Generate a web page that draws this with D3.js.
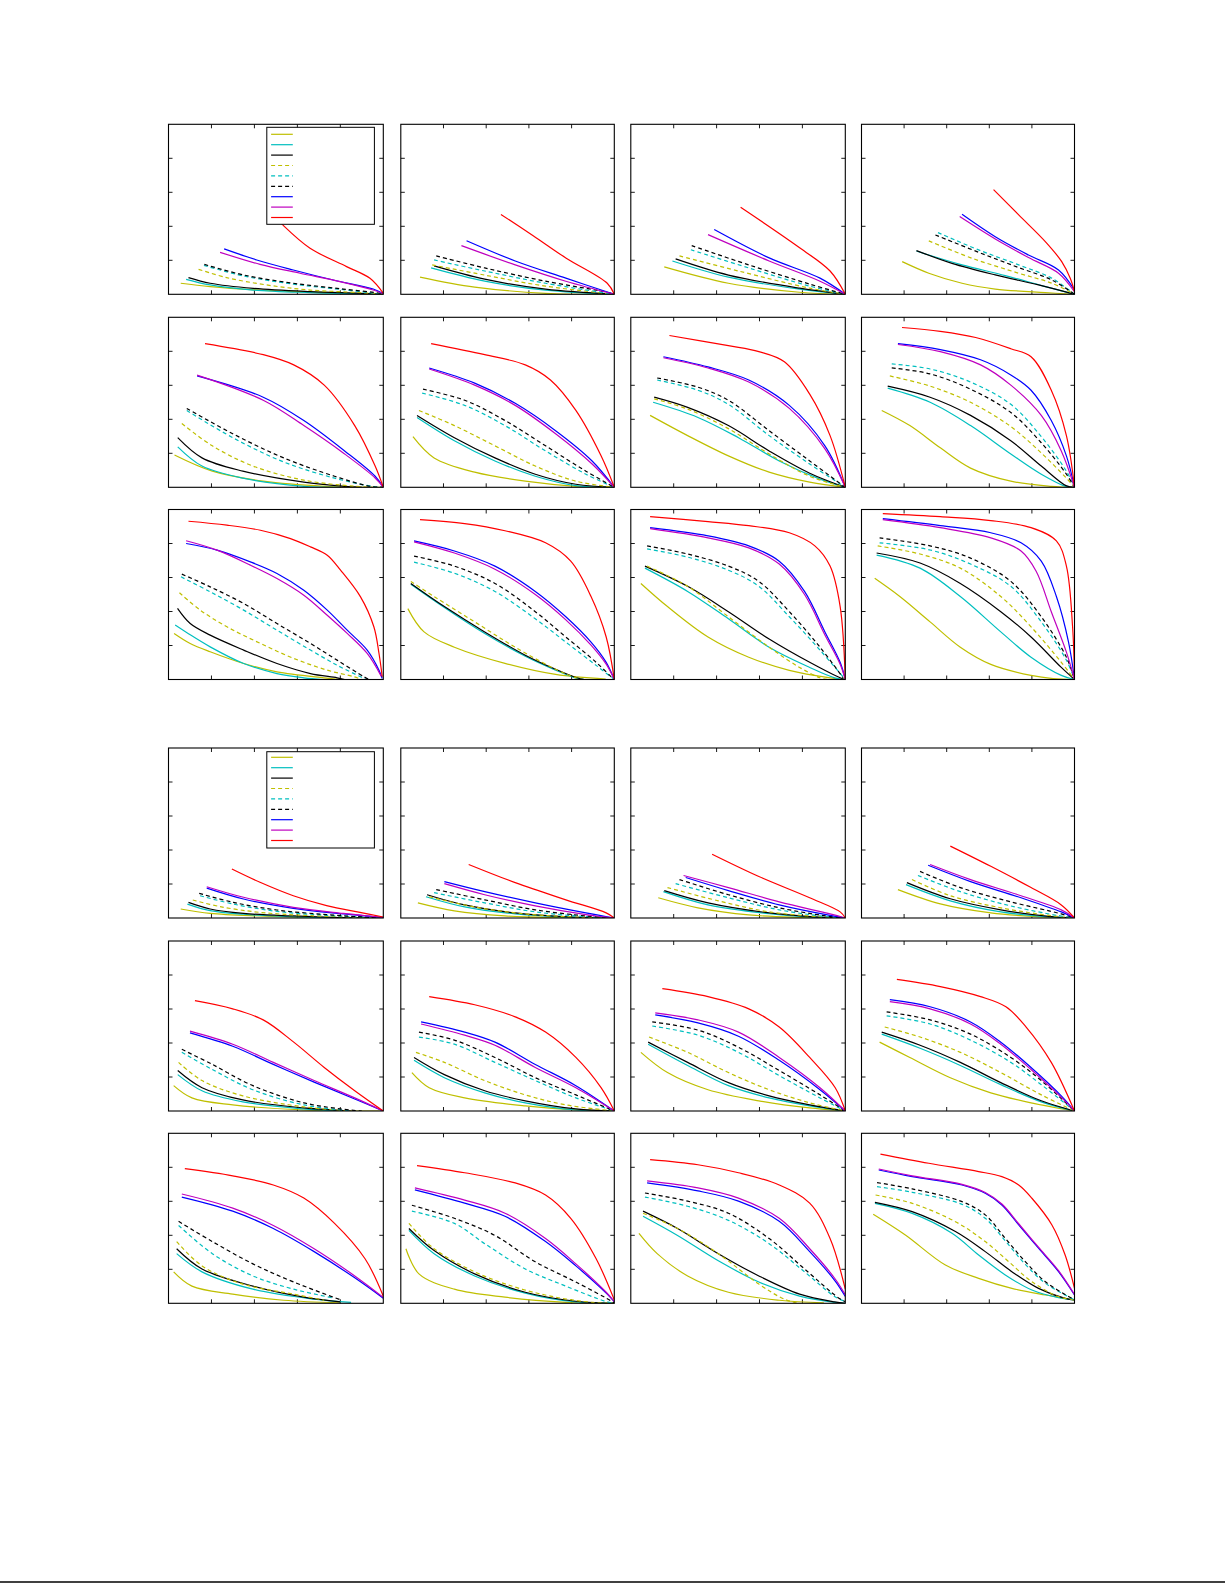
<!DOCTYPE html>
<html><head><meta charset="utf-8">
<script src="https://cdnjs.cloudflare.com/ajax/libs/d3/7.8.5/d3.min.js"></script>
<style>body{margin:0;background:#fff}svg{display:block}</style></head>
<body>
<script>
// series order: yellow, cyan, black (solid), yellow, cyan, black (dashed), blue, magenta, red
const seriesKeys = ["y","c","k","yd","cd","kd","b","m","r"];
const xTicks = [0.2,0.4,0.6,0.8];
const yTicks = [0.2,0.4,0.6,0.8];

// ---- top block ----
const A1 = [
 [0.057,0.065,0.194,0.045,0.426,0.025,0.736,0.01,1,0],
 [0.082,0.088,0.194,0.055,0.395,0.025,0.659,0.01,1,0],
 [0.093,0.098,0.194,0.065,0.395,0.035,0.659,0.016,0.891,0.006,1,0],
 [0.140,0.147,0.271,0.098,0.457,0.055,0.659,0.025,0.891,0.01,1,0],
 [0.165,0.170,0.349,0.108,0.581,0.060,0.814,0.027,1,0],
 [0.167,0.176,0.349,0.114,0.581,0.065,0.814,0.031,0.984,0.006,1,0],
 [0.259,0.267,0.411,0.202,0.581,0.143,0.767,0.084,0.953,0.031,1,0.003],
 [0.240,0.247,0.426,0.176,0.612,0.124,0.798,0.075,0.953,0.025,1,0.003],
 [0.47,0.49,0.527,0.414,0.659,0.271,0.829,0.163,0.938,0.094,1,0.006]];
const A2 = [
 [0.09,0.101,0.346,0.042,0.678,0.006,1,0],
 [0.142,0.155,0.393,0.077,0.678,0.024,1,0],
 [0.156,0.167,0.393,0.089,0.678,0.03,1,0],
 [0.147,0.173,0.393,0.113,0.678,0.048,1,0],
 [0.156,0.202,0.393,0.137,0.678,0.065,1,0],
 [0.166,0.226,0.393,0.155,0.678,0.077,0.967,0.012,1,0],
 [0.308,0.315,0.536,0.196,0.773,0.095,1,0],
 [0.284,0.286,0.536,0.173,0.773,0.077,1,0],
 [0.469,0.47,0.62,0.345,0.773,0.214,0.967,0.065,1,0]];
const A3 = [
 [0.156,0.161,0.455,0.065,0.787,0.012,1,0],
 [0.194,0.196,0.455,0.101,0.787,0.03,1,0],
 [0.209,0.208,0.455,0.113,0.787,0.036,1,0],
 [0.227,0.226,0.502,0.137,0.834,0.036,1,0],
 [0.28,0.262,0.55,0.155,0.834,0.048,1,0],
 [0.284,0.286,0.55,0.173,0.834,0.06,1,0],
 [0.389,0.381,0.645,0.214,0.882,0.095,1,0],
 [0.36,0.351,0.645,0.196,0.882,0.077,1,0],
 [0.512,0.512,0.787,0.274,0.929,0.137,1,0]];
const A4 = [
 [0.191,0.192,0.316,0.124,0.472,0.065,0.628,0.031,0.863,0.01,1,0],
 [0.258,0.255,0.316,0.231,0.472,0.173,0.675,0.11,0.85,0.05,1,0],
 [0.258,0.257,0.425,0.182,0.628,0.114,0.831,0.055,1,0],
 [0.316,0.314,0.519,0.212,0.738,0.124,0.894,0.065,1,0],
 [0.359,0.363,0.55,0.261,0.738,0.173,0.894,0.094,1,0],
 [0.347,0.349,0.55,0.247,0.738,0.157,0.894,0.084,1,0],
 [0.472,0.471,0.628,0.339,0.784,0.231,0.925,0.143,1,0.025],
 [0.461,0.457,0.628,0.325,0.784,0.216,0.925,0.124,1,0.015],
 [0.62,0.616,0.738,0.467,0.863,0.31,0.94,0.192,0.98,0.094,1,0.016]];
const B1 = [
 [0.028,0.19,0.204,0.095,0.441,0.036,0.725,0.006,1,0],
 [0.043,0.238,0.156,0.125,0.346,0.054,0.63,0.006,0.8,0],
 [0.043,0.292,0.156,0.173,0.346,0.095,0.63,0.03,0.82,0.006,0.9,0],
 [0.062,0.375,0.204,0.244,0.393,0.125,0.63,0.042,0.867,0.006,0.95,0],
 [0.085,0.452,0.299,0.292,0.536,0.149,0.773,0.054,0.95,0.005,1,0],
 [0.085,0.464,0.299,0.315,0.536,0.173,0.773,0.065,0.938,0.006,1,0],
 [0.133,0.655,0.441,0.53,0.63,0.393,0.82,0.214,0.962,0.065,1,0],
 [0.133,0.66,0.441,0.512,0.63,0.363,0.82,0.196,0.962,0.055,1,0],
 [0.17,0.845,0.441,0.78,0.583,0.72,0.725,0.601,0.867,0.363,0.962,0.125,1,0]];
const B2 = [
 [0.057,0.298,0.156,0.173,0.346,0.089,0.583,0.036,0.82,0.006,1,0],
 [0.076,0.411,0.251,0.274,0.441,0.155,0.63,0.065,0.82,0.01,1,0],
 [0.076,0.423,0.251,0.292,0.441,0.173,0.63,0.077,0.82,0.018,1,0],
 [0.085,0.452,0.251,0.363,0.441,0.244,0.63,0.125,0.82,0.036,1,0],
 [0.1,0.554,0.299,0.482,0.488,0.363,0.678,0.214,0.867,0.077,1,0],
 [0.104,0.577,0.299,0.512,0.488,0.393,0.678,0.244,0.867,0.095,1,0],
 [0.133,0.702,0.346,0.613,0.536,0.494,0.725,0.333,0.896,0.155,1,0],
 [0.133,0.696,0.346,0.601,0.536,0.482,0.725,0.315,0.896,0.137,1,0],
 [0.142,0.845,0.393,0.78,0.583,0.72,0.701,0.631,0.82,0.452,0.938,0.185,1,0]];
const B3 = [
 [0.09,0.423,0.265,0.304,0.455,0.185,0.645,0.089,0.834,0.03,1,0],
 [0.104,0.5,0.313,0.411,0.502,0.292,0.692,0.155,0.882,0.048,1,0],
 [0.109,0.53,0.265,0.47,0.455,0.363,0.645,0.214,0.834,0.083,1,0],
 [0.109,0.52,0.265,0.46,0.455,0.345,0.645,0.196,0.834,0.065,1,0],
 [0.123,0.631,0.313,0.571,0.455,0.488,0.645,0.304,0.834,0.137,1,0],
 [0.123,0.643,0.313,0.589,0.455,0.512,0.645,0.333,0.834,0.155,1,0],
 [0.152,0.768,0.36,0.708,0.55,0.631,0.739,0.482,0.905,0.244,1,0],
 [0.152,0.762,0.36,0.702,0.55,0.619,0.739,0.464,0.905,0.226,1,0],
 [0.18,0.893,0.455,0.833,0.597,0.798,0.716,0.738,0.834,0.548,0.929,0.304,1,0]];
const B4 = [
 [0.095,0.452,0.227,0.363,0.37,0.232,0.512,0.113,0.701,0.036,0.891,0.006,1,0],
 [0.123,0.583,0.322,0.5,0.512,0.363,0.701,0.196,0.844,0.077,0.96,0.005,1,0],
 [0.123,0.595,0.322,0.53,0.512,0.423,0.701,0.274,0.844,0.125,0.96,0.01,1,0],
 [0.133,0.655,0.322,0.595,0.512,0.5,0.701,0.357,0.844,0.202,0.962,0.054,1,0],
 [0.142,0.726,0.322,0.696,0.512,0.619,0.701,0.488,0.844,0.298,0.962,0.095,1,0],
 [0.142,0.702,0.322,0.667,0.512,0.577,0.701,0.44,0.844,0.262,0.962,0.077,1,0],
 [0.171,0.845,0.37,0.81,0.559,0.75,0.701,0.661,0.796,0.571,0.891,0.393,0.962,0.185,1,0],
 [0.171,0.84,0.37,0.798,0.559,0.72,0.701,0.601,0.844,0.423,0.938,0.214,1,0],
 [0.19,0.94,0.37,0.917,0.536,0.881,0.701,0.815,0.796,0.768,0.891,0.571,0.962,0.304,1,0]];
const C1 = [
 [0.026,0.271,0.101,0.212,0.194,0.163,0.35,0.094,0.505,0.045,0.723,0.01,0.8,0],
 [0.031,0.32,0.086,0.275,0.194,0.192,0.35,0.094,0.505,0.035,0.63,0.01,0.72,0],
 [0.042,0.418,0.101,0.329,0.194,0.261,0.35,0.173,0.505,0.094,0.661,0.035,0.785,0.01,0.82,0],
 [0.051,0.51,0.148,0.408,0.272,0.31,0.428,0.212,0.583,0.124,0.739,0.055,0.863,0.016,0.9,0],
 [0.058,0.604,0.194,0.516,0.35,0.408,0.505,0.29,0.661,0.173,0.785,0.084,0.894,0.016,0.92,0],
 [0.062,0.62,0.194,0.545,0.35,0.447,0.505,0.329,0.661,0.212,0.785,0.114,0.91,0.016,0.935,0],
 [0.082,0.8,0.226,0.761,0.381,0.692,0.505,0.624,0.63,0.525,0.739,0.408,0.832,0.29,0.925,0.173,0.98,0.055,0.995,0.006],
 [0.082,0.816,0.226,0.761,0.381,0.673,0.505,0.594,0.63,0.496,0.739,0.378,0.832,0.271,0.925,0.153,0.99,0.02],
 [0.093,0.931,0.272,0.908,0.428,0.878,0.568,0.829,0.661,0.78,0.739,0.731,0.801,0.643,0.894,0.486,0.956,0.31,0.98,0.153,0.995,0.016]];
const C2 = [
 [0.033,0.417,0.109,0.28,0.251,0.19,0.488,0.095,0.725,0.03,0.96,0.003],
 [0.047,0.56,0.204,0.423,0.393,0.27,0.583,0.137,0.725,0.055,0.82,0.008,0.86,0],
 [0.047,0.565,0.204,0.429,0.393,0.28,0.583,0.143,0.725,0.06,0.82,0.012,0.86,0],
 [0.047,0.577,0.156,0.488,0.346,0.339,0.536,0.19,0.725,0.06,0.82,0.01,0.85,0],
 [0.062,0.69,0.251,0.625,0.441,0.518,0.63,0.357,0.773,0.22,0.915,0.083,1,0],
 [0.062,0.726,0.251,0.667,0.441,0.565,0.63,0.399,0.773,0.25,0.915,0.101,0.99,0.01],
 [0.062,0.815,0.251,0.756,0.441,0.667,0.63,0.518,0.773,0.369,0.891,0.22,0.962,0.101,1,0],
 [0.062,0.81,0.251,0.744,0.441,0.649,0.63,0.5,0.773,0.351,0.891,0.202,0.962,0.09,1,0],
 [0.09,0.94,0.299,0.917,0.488,0.875,0.678,0.804,0.796,0.696,0.891,0.488,0.962,0.25,1,0]];
const C3 = [
 [0.047,0.565,0.171,0.429,0.36,0.25,0.55,0.131,0.739,0.054,0.929,0.01,1,0],
 [0.066,0.655,0.265,0.518,0.455,0.357,0.645,0.19,0.834,0.071,0.95,0.01,1,0],
 [0.066,0.667,0.265,0.548,0.455,0.399,0.645,0.238,0.834,0.101,0.976,0.01,1,0],
 [0.076,0.667,0.265,0.548,0.455,0.369,0.645,0.19,0.787,0.071,0.882,0.01,0.92,0],
 [0.076,0.768,0.265,0.72,0.455,0.643,0.597,0.548,0.739,0.369,0.882,0.173,1,0],
 [0.076,0.786,0.265,0.738,0.455,0.667,0.597,0.577,0.739,0.399,0.882,0.19,0.99,0.01],
 [0.09,0.893,0.36,0.845,0.55,0.786,0.692,0.696,0.81,0.518,0.905,0.28,0.976,0.101,1,0],
 [0.09,0.887,0.36,0.833,0.55,0.774,0.692,0.679,0.81,0.5,0.905,0.262,0.976,0.09,1,0],
 [0.09,0.958,0.36,0.929,0.55,0.905,0.739,0.863,0.858,0.786,0.929,0.667,0.976,0.429,1,0]];
const C4 = [
 [0.062,0.595,0.18,0.488,0.322,0.339,0.464,0.19,0.607,0.089,0.796,0.024,0.9,0.005,1,0],
 [0.071,0.732,0.275,0.655,0.464,0.488,0.654,0.28,0.796,0.131,0.938,0.024,1,0],
 [0.071,0.744,0.275,0.685,0.464,0.565,0.654,0.399,0.796,0.25,0.938,0.071,1,0],
 [0.076,0.786,0.275,0.738,0.464,0.655,0.654,0.488,0.796,0.31,0.938,0.101,1,0],
 [0.085,0.804,0.322,0.762,0.512,0.679,0.701,0.548,0.844,0.339,0.962,0.113,1,0],
 [0.085,0.833,0.322,0.786,0.512,0.714,0.701,0.577,0.844,0.369,0.962,0.131,1,0],
 [0.1,0.946,0.37,0.905,0.607,0.863,0.749,0.804,0.844,0.696,0.915,0.488,0.972,0.22,1,0],
 [0.1,0.94,0.37,0.893,0.607,0.833,0.749,0.756,0.82,0.637,0.891,0.399,0.962,0.161,1,0],
 [0.1,0.976,0.37,0.958,0.607,0.935,0.796,0.893,0.915,0.815,0.962,0.667,0.991,0.31,1,0]];

// ---- bottom block ----
const D1 = [
 [0.057,0.053,0.194,0.027,0.426,0.012,0.7,0.003,1,0],
 [0.088,0.082,0.194,0.043,0.349,0.022,0.6,0.006,1,0],
 [0.093,0.092,0.194,0.053,0.349,0.027,0.581,0.012,0.8,0.003,1,0],
 [0.113,0.106,0.24,0.067,0.426,0.033,0.659,0.014,1,0],
 [0.147,0.131,0.302,0.082,0.504,0.039,0.736,0.016,1,0],
 [0.143,0.145,0.302,0.092,0.504,0.047,0.736,0.02,0.92,0.005,1,0],
 [0.178,0.176,0.349,0.112,0.581,0.057,0.814,0.024,1,0.003],
 [0.178,0.184,0.349,0.122,0.581,0.063,0.814,0.027,1,0.003],
 [0.295,0.288,0.426,0.21,0.581,0.131,0.736,0.073,0.891,0.033,1,0.006]];
const D2 = [
 [0.08,0.089,0.251,0.042,0.488,0.012,0.75,0.002,1,0],
 [0.118,0.125,0.299,0.065,0.536,0.024,0.8,0.004,1,0],
 [0.123,0.137,0.299,0.077,0.536,0.03,0.8,0.006,1,0],
 [0.133,0.125,0.346,0.065,0.583,0.024,0.85,0.004,1,0],
 [0.156,0.149,0.393,0.089,0.63,0.036,0.867,0.008,1,0],
 [0.166,0.167,0.393,0.107,0.63,0.048,0.867,0.012,1,0],
 [0.204,0.214,0.393,0.155,0.63,0.089,0.867,0.03,1,0],
 [0.204,0.202,0.393,0.137,0.63,0.071,0.867,0.02,1,0],
 [0.318,0.315,0.536,0.208,0.773,0.107,0.962,0.03,1,0]];
const D3 = [
 [0.128,0.119,0.313,0.06,0.55,0.018,0.8,0.004,1,0],
 [0.152,0.155,0.36,0.077,0.645,0.025,0.85,0.005,1,0],
 [0.156,0.161,0.36,0.089,0.645,0.03,0.85,0.007,1,0],
 [0.171,0.179,0.408,0.101,0.645,0.036,0.88,0.008,1,0],
 [0.209,0.202,0.455,0.119,0.692,0.048,0.9,0.01,1,0],
 [0.227,0.226,0.455,0.137,0.692,0.06,0.9,0.014,1,0],
 [0.256,0.238,0.455,0.161,0.692,0.077,0.929,0.015,1,0],
 [0.246,0.25,0.455,0.179,0.692,0.095,0.929,0.024,1,0],
 [0.379,0.375,0.597,0.244,0.834,0.119,0.976,0.036,1,0]];
const D4 = [
 [0.171,0.167,0.37,0.083,0.607,0.03,0.85,0.006,1,0],
 [0.209,0.196,0.417,0.101,0.654,0.036,0.88,0.007,1,0],
 [0.213,0.208,0.417,0.113,0.654,0.048,0.88,0.01,1,0],
 [0.237,0.226,0.417,0.131,0.654,0.06,0.9,0.012,1,0],
 [0.265,0.25,0.464,0.155,0.701,0.071,0.92,0.015,1,0],
 [0.275,0.274,0.464,0.179,0.701,0.095,0.938,0.024,1,0],
 [0.313,0.31,0.512,0.214,0.749,0.119,0.938,0.036,1,0],
 [0.322,0.315,0.512,0.226,0.749,0.131,0.938,0.048,1,0],
 [0.417,0.423,0.607,0.304,0.796,0.179,0.938,0.077,1,0]];
const E1 = [
 [0.024,0.149,0.109,0.077,0.299,0.036,0.63,0.006,1,0],
 [0.043,0.214,0.156,0.119,0.346,0.054,0.63,0.012,0.8,0],
 [0.043,0.238,0.156,0.137,0.346,0.065,0.63,0.018,0.85,0],
 [0.047,0.286,0.156,0.179,0.346,0.089,0.63,0.024,0.85,0],
 [0.062,0.345,0.204,0.244,0.393,0.125,0.63,0.036,0.85,0],
 [0.062,0.363,0.204,0.274,0.393,0.149,0.63,0.048,0.844,0.006,0.9,0],
 [0.1,0.46,0.299,0.381,0.488,0.274,0.678,0.17,0.867,0.071,1,0],
 [0.1,0.47,0.299,0.393,0.488,0.286,0.678,0.179,0.867,0.077,1,0],
 [0.123,0.649,0.299,0.601,0.441,0.536,0.583,0.405,0.725,0.256,0.867,0.119,1,0]];
const E2 = [
 [0.052,0.226,0.133,0.137,0.299,0.077,0.583,0.03,0.85,0.005,1,0],
 [0.062,0.298,0.204,0.196,0.393,0.107,0.583,0.048,0.82,0.006,1,0],
 [0.062,0.315,0.204,0.214,0.393,0.119,0.583,0.06,0.82,0.012,1,0],
 [0.071,0.345,0.204,0.286,0.393,0.179,0.583,0.095,0.773,0.036,1,0],
 [0.085,0.435,0.251,0.393,0.441,0.286,0.63,0.179,0.82,0.077,1,0],
 [0.085,0.464,0.251,0.417,0.441,0.315,0.63,0.196,0.82,0.095,1,0],
 [0.095,0.524,0.299,0.464,0.441,0.405,0.63,0.274,0.82,0.149,1,0],
 [0.095,0.512,0.299,0.446,0.441,0.387,0.63,0.256,0.82,0.137,1,0],
 [0.133,0.673,0.346,0.625,0.536,0.554,0.678,0.464,0.82,0.315,0.938,0.137,1,0]];
const E3 = [
 [0.047,0.345,0.171,0.226,0.36,0.125,0.597,0.06,0.834,0.018,1,0],
 [0.081,0.393,0.265,0.268,0.455,0.149,0.645,0.077,0.834,0.03,1,0],
 [0.081,0.405,0.265,0.286,0.455,0.167,0.645,0.089,0.834,0.036,1,0],
 [0.085,0.435,0.265,0.345,0.455,0.226,0.645,0.125,0.834,0.048,1,0],
 [0.1,0.5,0.313,0.446,0.502,0.345,0.692,0.208,0.882,0.077,1,0],
 [0.1,0.524,0.313,0.476,0.502,0.375,0.692,0.238,0.882,0.095,1,0],
 [0.114,0.565,0.313,0.518,0.502,0.44,0.692,0.298,0.882,0.125,1,0],
 [0.114,0.577,0.313,0.536,0.502,0.464,0.692,0.315,0.882,0.137,1,0],
 [0.147,0.72,0.36,0.673,0.55,0.601,0.692,0.494,0.834,0.315,0.953,0.137,1,0]];
const E4 = [
 [0.085,0.405,0.227,0.315,0.417,0.196,0.607,0.107,0.796,0.048,1,0],
 [0.095,0.452,0.275,0.369,0.464,0.268,0.654,0.155,0.844,0.054,1,0],
 [0.095,0.464,0.275,0.387,0.464,0.286,0.654,0.167,0.844,0.06,1,0],
 [0.109,0.494,0.275,0.435,0.464,0.345,0.654,0.226,0.844,0.095,1,0],
 [0.118,0.56,0.322,0.512,0.512,0.417,0.701,0.286,0.844,0.155,1,0],
 [0.118,0.583,0.322,0.536,0.512,0.452,0.701,0.315,0.844,0.179,1,0],
 [0.133,0.655,0.322,0.613,0.512,0.524,0.654,0.405,0.796,0.256,0.938,0.089,1,0],
 [0.133,0.643,0.322,0.601,0.512,0.512,0.654,0.393,0.796,0.244,0.938,0.08,1,0],
 [0.166,0.774,0.37,0.732,0.559,0.673,0.678,0.613,0.773,0.494,0.891,0.286,1,0]];
const F1 = [
 [0.024,0.185,0.109,0.101,0.299,0.054,0.536,0.018,0.8,0.003],
 [0.038,0.292,0.156,0.185,0.393,0.083,0.678,0.024,0.85,0.005],
 [0.038,0.321,0.156,0.202,0.393,0.101,0.63,0.036,0.8,0.008],
 [0.038,0.363,0.156,0.22,0.346,0.113,0.583,0.054,0.725,0.018],
 [0.047,0.458,0.204,0.292,0.393,0.161,0.583,0.083,0.773,0.03],
 [0.047,0.482,0.204,0.363,0.393,0.232,0.583,0.125,0.806,0.018],
 [0.062,0.625,0.299,0.542,0.488,0.44,0.678,0.304,0.867,0.15,1,0.03],
 [0.062,0.643,0.299,0.56,0.488,0.458,0.678,0.321,0.867,0.161,1,0.035],
 [0.076,0.792,0.299,0.75,0.488,0.696,0.63,0.619,0.773,0.47,0.915,0.262,1,0.042]];
const F2 = [
 [0.024,0.321,0.085,0.173,0.251,0.083,0.488,0.036,0.773,0.006,1,0],
 [0.038,0.429,0.156,0.292,0.346,0.161,0.583,0.06,0.82,0.008,1,0],
 [0.038,0.44,0.156,0.31,0.346,0.173,0.583,0.065,0.82,0.012,1,0],
 [0.038,0.47,0.156,0.321,0.346,0.185,0.536,0.095,0.725,0.036,0.9,0.005,1,0],
 [0.052,0.542,0.251,0.47,0.393,0.351,0.583,0.202,0.773,0.101,0.962,0.01,1,0],
 [0.052,0.577,0.251,0.5,0.441,0.399,0.63,0.244,0.82,0.125,0.99,0.01,1,0],
 [0.066,0.667,0.299,0.589,0.488,0.512,0.678,0.363,0.82,0.22,0.962,0.06,1,0.01],
 [0.066,0.679,0.299,0.607,0.488,0.53,0.678,0.381,0.82,0.232,0.962,0.065,1,0.01],
 [0.076,0.81,0.299,0.768,0.536,0.708,0.678,0.637,0.796,0.5,0.915,0.262,1,0.02]];
const F3 = [
 [0.038,0.411,0.123,0.292,0.265,0.161,0.455,0.065,0.692,0.018,0.9,0.003],
 [0.057,0.512,0.218,0.399,0.408,0.25,0.597,0.125,0.787,0.042,0.95,0.005,1,0],
 [0.057,0.542,0.218,0.44,0.408,0.292,0.597,0.161,0.787,0.054,0.95,0.008,1,0],
 [0.057,0.53,0.218,0.44,0.408,0.292,0.597,0.113,0.716,0.024,0.78,0],
 [0.066,0.625,0.265,0.571,0.455,0.488,0.645,0.351,0.81,0.185,0.95,0.04,1,0.01],
 [0.066,0.649,0.265,0.601,0.455,0.53,0.645,0.381,0.81,0.202,0.97,0.03,1,0.01],
 [0.076,0.708,0.313,0.661,0.502,0.601,0.692,0.482,0.834,0.304,0.953,0.131,1,0.04],
 [0.076,0.72,0.313,0.679,0.502,0.619,0.692,0.5,0.834,0.321,0.953,0.143,1,0.05],
 [0.09,0.845,0.313,0.815,0.502,0.768,0.692,0.696,0.834,0.589,0.929,0.381,1,0.083]];
const F4 = [
 [0.055,0.524,0.206,0.402,0.394,0.225,0.55,0.147,0.706,0.088,0.863,0.049,0.956,0.029,1,0.02],
 [0.063,0.588,0.238,0.529,0.425,0.412,0.55,0.284,0.675,0.167,0.8,0.078,0.925,0.033,1,0.02],
 [0.063,0.594,0.238,0.539,0.441,0.422,0.581,0.304,0.706,0.186,0.831,0.088,0.956,0.029,1,0.02],
 [0.066,0.637,0.238,0.588,0.441,0.48,0.581,0.363,0.691,0.245,0.8,0.127,0.925,0.039,1,0.02],
 [0.073,0.686,0.238,0.653,0.472,0.582,0.581,0.5,0.675,0.367,0.769,0.229,0.863,0.118,1,0.02],
 [0.073,0.71,0.238,0.673,0.472,0.598,0.581,0.52,0.675,0.382,0.769,0.245,0.863,0.127,1,0.02],
 [0.081,0.784,0.238,0.745,0.472,0.696,0.581,0.647,0.659,0.578,0.738,0.461,0.831,0.324,0.925,0.186,1,0.049],
 [0.081,0.79,0.238,0.75,0.472,0.7,0.581,0.652,0.659,0.584,0.738,0.468,0.831,0.33,0.925,0.192,1,0.052],
 [0.089,0.878,0.316,0.824,0.55,0.775,0.659,0.745,0.738,0.696,0.8,0.618,0.894,0.461,0.956,0.284,1,0.088]];

const panels = [A1,A2,A3,A4,B1,B2,B3,B4,C1,C2,C3,C4,D1,D2,D3,D4,E1,E2,E3,E4,F1,F2,F3,F4];

// ---- styles ----
const seriesColor = {y:"#bfbf00",c:"#00bfbf",k:"#000000",yd:"#bfbf00",cd:"#00bfbf",kd:"#000000",b:"#0000ff",m:"#bf00bf",r:"#ff0000"};
const seriesDash = {y:null,c:null,k:null,yd:"4,3",cd:"4,3",kd:"4,3",b:null,m:null,r:null};

const W = 1225, H = 1585;
const colLeft = [168.5, 400.8, 630.8, 861.5];
const colWidth = [214.8, 213.5, 214.5, 213];
const rowTop = [124.3, 317.3, 509.5, 748, 941, 1133.3];
const rowH = 170;

const svg = d3.select("body").append("svg").attr("width", W).attr("height", H);
const defs = svg.append("defs");

panels.forEach((pdata, i) => {
  const row = Math.floor(i / 4), col = i % 4;
  const x0 = colLeft[col], y0 = rowTop[row], w = colWidth[col], h = rowH;
  const xs = d3.scaleLinear().domain([0,1]).range([0, w]);
  const ys = d3.scaleLinear().domain([0,1]).range([h, 0]);
  const g = svg.append("g").attr("transform", `translate(${x0},${y0})`);
  const cid = "clip" + i;
  defs.append("clipPath").attr("id", cid).append("rect").attr("x",0).attr("y",0).attr("width",w).attr("height",h);

  // ticks (inward, all four sides)
  const tk = 4;
  const tg = g.append("g").attr("stroke","#000").attr("stroke-width",0.9);
  xTicks.forEach(t => {
    tg.append("line").attr("x1",xs(t)).attr("x2",xs(t)).attr("y1",0).attr("y2",tk);
    tg.append("line").attr("x1",xs(t)).attr("x2",xs(t)).attr("y1",h).attr("y2",h-tk);
  });
  yTicks.forEach(t => {
    tg.append("line").attr("y1",ys(t)).attr("y2",ys(t)).attr("x1",0).attr("x2",tk);
    tg.append("line").attr("y1",ys(t)).attr("y2",ys(t)).attr("x1",w).attr("x2",w-tk);
  });

  const line = d3.line().x(d => xs(d[0])).y(d => ys(d[1])).curve(d3.curveCatmullRom.alpha(0.5));
  const lg = g.append("g").attr("clip-path", `url(#${cid})`);
  pdata.forEach((flat, si) => {
    const pts = [];
    for (let k = 0; k < flat.length; k += 2) pts.push([flat[k], flat[k+1]]);
    const key = seriesKeys[si];
    lg.append("path").attr("d", line(pts)).attr("fill","none")
      .attr("stroke", seriesColor[key]).attr("stroke-width",1.2)
      .attr("stroke-dasharray", seriesDash[key]);
  });

  // legend in first panel of each block
  if (col === 0 && (row === 0 || row === 3)) {
    const lx = 98.3, ly = row === 0 ? 3 : 3.7, lw = 107.6, lh = row === 0 ? 97 : 96.3;
    const leg = g.append("g");
    leg.append("rect").attr("x",lx).attr("y",ly).attr("width",lw).attr("height",lh)
      .attr("fill","#fff").attr("stroke","#000").attr("stroke-width",1);
    const first = row === 0 ? 10 : 9.3, step = 10.4;
    seriesKeys.forEach((key, si) => {
      const yy = first + si * step;
      leg.append("line").attr("x1", lx + 4.3).attr("x2", lx + 26).attr("y1", yy).attr("y2", yy)
        .attr("stroke", seriesColor[key]).attr("stroke-width",1.2)
        .attr("stroke-dasharray", seriesDash[key]);
    });
  }

  g.append("rect").attr("x",0).attr("y",0).attr("width",w).attr("height",h)
    .attr("fill","none").attr("stroke","#000").attr("stroke-width",1.1);
});

// bottom rule
svg.append("line").attr("x1",0).attr("x2",W).attr("y1",1582).attr("y2",1582)
  .attr("stroke","#000").attr("stroke-width",1.5);
</script>
</body></html>
